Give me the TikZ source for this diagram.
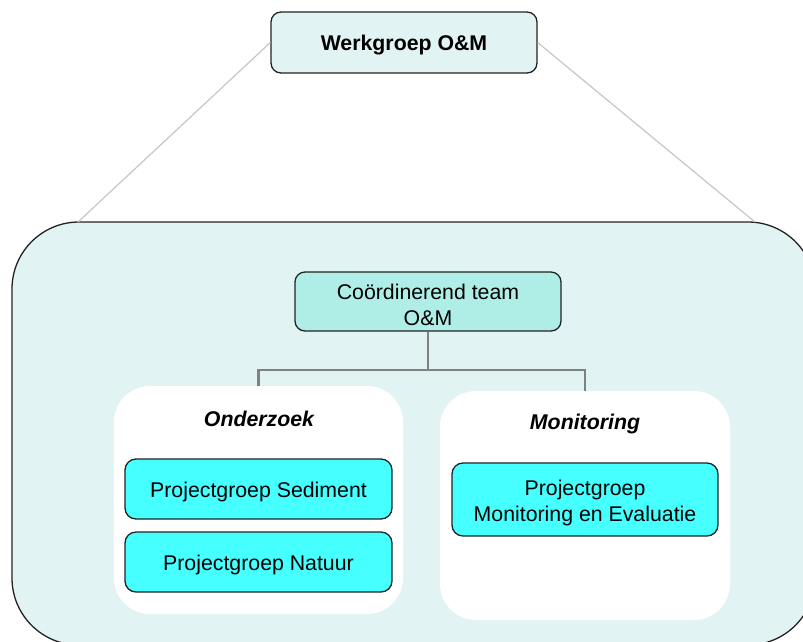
\documentclass[tikz,border=0pt]{standalone}
\usepackage{fontspec}
\setmainfont{Liberation Sans}
\usetikzlibrary{calc}
\definecolor{paleteal}{HTML}{E2F3F3}
\definecolor{coordfill}{HTML}{AFEEE7}
\definecolor{cyanfill}{HTML}{46FFFF}
\definecolor{edgegray}{HTML}{222222}
\definecolor{linkgray}{HTML}{808080}
\definecolor{fangray}{HTML}{C6C6C6}
% set a line of box text a little lower without changing the box size
\newcommand{\lowline}[1]{\raisebox{-3pt}[\height][\depth]{#1}}
\tikzset{
  box/.style={draw=edgegray, line width=1.3pt, align=center, inner sep=0pt,
    font=\fontsize{21.3}{26}\selectfont},
  groupbox/.style={fill=white, draw=none, rounded corners=36pt, inner sep=0pt},
  pgbox/.style={box, fill=cyanfill, rounded corners=11pt, minimum width=267pt},
  link/.style={draw=linkgray, line width=2.2pt},
  fan/.style={draw=fangray, line width=1.2pt},
  grouptitle/.style={font=\fontsize{21.3}{26}\selectfont\bfseries\itshape, inner sep=0pt}
}
\begin{document}
\begin{tikzpicture}[x=1pt,y=-1pt]
  \useasboundingbox (0,0) rectangle (803,641);
  \begin{scope}
    \clip (0,0) rectangle (803,641);
    % outer panel that holds the working groups
    \node[box, fill=paleteal, rounded corners=67pt, minimum width=803pt,
          minimum height=423pt] (panel) at (413.5,433.5) {};
    \coordinate (panelL) at (78,222);
    \coordinate (panelR) at (755,222);

    % top level
    \node[box, fill=paleteal, rounded corners=10pt, minimum width=266pt,
          minimum height=61pt, font=\fontsize{21.3}{26}\selectfont\bfseries]
          (werkgroep) at (404,42.5) {\lowline{Werkgroep O\&M}};
    \draw[fan] (werkgroep.west) -- (panelL);
    \draw[fan] (werkgroep.east) -- (panelR);

    % coordinating team
    \node[box, fill=coordfill, rounded corners=10pt, minimum width=266pt,
          minimum height=59pt] (coord) at (428,301.5)
          {\lowline{Coördinerend team}\\\lowline{O\&M}};

    % group panels
    \node[groupbox, minimum width=289pt, minimum height=228pt]
          (onderzoek) at (258.5,500) {};
    \node[groupbox, minimum width=290pt, minimum height=229pt]
          (monitoring) at (585,505.5) {};

    \draw[link] (coord.south) -- ++(0,38) -| (onderzoek.north);
    \draw[link] (coord.south) -- ++(0,38) -| (monitoring.north);

    \node[grouptitle] (tOnd) at (259,419) {Onderzoek};
    \node[grouptitle] (tMon) at (585,424) {Monitoring};

    \node[pgbox, minimum height=60pt] (sed) at (258.5,489)
          {\lowline{Projectgroep Sediment}};
    \node[pgbox, minimum height=60pt] (nat) at (258.5,562)
          {\lowline{Projectgroep Natuur}};
    \node[pgbox, minimum width=266pt, minimum height=73pt] (mon) at (585,499.5)
          {\lowline{Projectgroep}\\\lowline{Monitoring en Evaluatie}};
  \end{scope}
\end{tikzpicture}
\end{document}
